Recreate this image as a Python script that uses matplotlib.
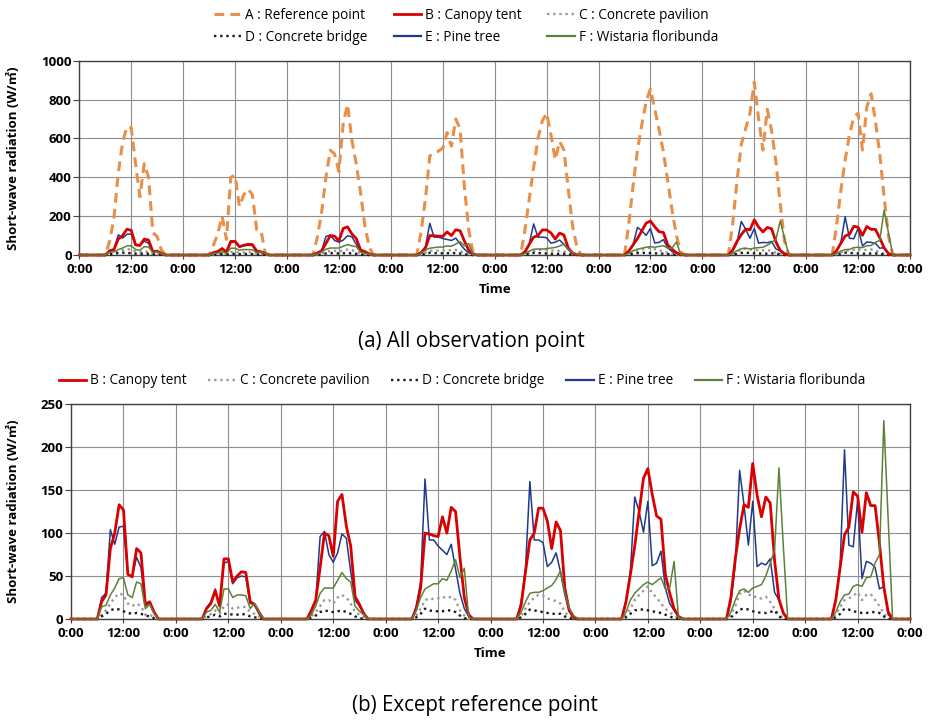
import matplotlib
matplotlib.use("Agg")
import matplotlib.pyplot as plt
from matplotlib.lines import Line2D
import numpy as np

# ---------------- data (hourly, values for hours 6..20 of each of 8 days) -------------
DAY_HOURS = list(range(6, 21))
N_DAYS = 8

A_ref = [
    [0, 70, 190, 420, 580, 660, 655, 470, 300, 470, 400, 115, 95, 25, 0],
    [0, 50, 110, 200, 80, 400, 410, 250, 310, 340, 310, 130, 125, 5, 0],
    [0, 90, 220, 400, 540, 520, 430, 680, 775, 590, 470, 320, 150, 40, 0],
    [0, 120, 290, 510, 525, 535, 550, 630, 560, 700, 650, 350, 130, 10, 0],
    [0, 130, 290, 450, 600, 690, 730, 620, 490, 585, 540, 340, 150, 40, 0],
    [0, 160, 360, 540, 670, 790, 855, 750, 645, 530, 380, 230, 100, 15, 0],
    [0, 160, 380, 570, 650, 730, 890, 700, 540, 750, 640, 480, 260, 70, 0],
    [0, 150, 330, 490, 620, 710, 730, 540, 760, 830, 690, 520, 300, 100, 0],
]
B_tent = [
    [0, 20, 28, 82, 100, 133, 127, 52, 49, 82, 77, 17, 20, 8, 0],
    [0, 12, 18, 33, 15, 70, 70, 43, 50, 55, 54, 20, 17, 8, 0],
    [0, 10, 22, 60, 100, 97, 73, 137, 145, 108, 85, 26, 17, 6, 0],
    [0, 12, 36, 100, 99, 97, 96, 119, 100, 130, 125, 72, 25, 5, 0],
    [0, 16, 55, 92, 100, 129, 129, 114, 82, 113, 103, 36, 10, 2, 0],
    [0, 20, 52, 85, 125, 164, 175, 145, 120, 116, 52, 30, 12, 3, 0],
    [0, 25, 70, 105, 133, 130, 181, 144, 119, 142, 135, 68, 23, 7, 0],
    [0, 22, 60, 98, 107, 148, 143, 101, 147, 132, 132, 88, 37, 8, 0],
]
C_pavilion = [
    [0, 5, 10, 18, 25, 30, 28, 18, 15, 18, 15, 5, 5, 2, 0],
    [0, 3, 6, 10, 6, 15, 17, 12, 13, 14, 14, 8, 6, 3, 0],
    [0, 3, 8, 15, 22, 22, 18, 25, 28, 25, 18, 8, 5, 2, 0],
    [0, 4, 12, 22, 24, 23, 24, 26, 24, 26, 22, 10, 4, 0, 0],
    [0, 4, 12, 20, 25, 28, 27, 24, 22, 21, 18, 8, 3, 1, 0],
    [0, 5, 12, 22, 28, 33, 38, 30, 25, 18, 12, 8, 4, 1, 0],
    [0, 5, 15, 29, 33, 28, 28, 24, 24, 26, 20, 12, 5, 1, 0],
    [0, 5, 14, 22, 24, 27, 31, 22, 28, 29, 22, 15, 6, 1, 0],
]
D_bridge = [
    [0, 3, 6, 10, 12, 11, 9, 7, 6, 7, 6, 4, 3, 1, 0],
    [0, 2, 3, 5, 3, 6, 6, 5, 5, 6, 5, 3, 2, 1, 0],
    [0, 2, 4, 8, 10, 9, 8, 9, 10, 8, 6, 3, 1, 0, 0],
    [0, 2, 6, 12, 10, 9, 9, 9, 10, 10, 8, 4, 1, 0, 0],
    [0, 2, 6, 11, 10, 9, 8, 7, 6, 6, 6, 3, 1, 0, 0],
    [0, 2, 6, 10, 11, 11, 10, 9, 8, 7, 5, 3, 1, 0, 0],
    [0, 2, 6, 11, 12, 11, 9, 8, 7, 7, 8, 10, 3, 0, 0],
    [0, 2, 6, 12, 11, 9, 8, 7, 7, 8, 8, 7, 3, 0, 0],
]
E_pine = [
    [0, 25, 30, 104, 87, 107, 108, 52, 50, 72, 60, 15, 19, 8, 0],
    [0, 13, 20, 35, 15, 65, 67, 41, 48, 50, 49, 18, 17, 6, 0],
    [0, 10, 22, 96, 102, 75, 66, 77, 99, 94, 55, 22, 15, 7, 0],
    [0, 15, 43, 163, 92, 92, 85, 80, 75, 87, 58, 30, 12, 3, 0],
    [0, 20, 59, 160, 92, 92, 89, 61, 66, 77, 55, 28, 9, 2, 0],
    [0, 22, 55, 142, 125, 101, 137, 62, 65, 79, 36, 18, 10, 3, 0],
    [0, 20, 63, 173, 133, 86, 137, 61, 65, 63, 70, 31, 22, 6, 0],
    [0, 22, 63, 197, 86, 84, 138, 47, 67, 65, 60, 35, 38, 5, 0],
]
F_wistaria = [
    [0, 14, 16, 28, 36, 47, 48, 28, 25, 43, 41, 12, 17, 6, 0],
    [0, 8, 10, 17, 8, 35, 35, 25, 28, 28, 27, 12, 18, 8, 0],
    [0, 5, 15, 30, 36, 36, 36, 45, 54, 47, 43, 15, 9, 5, 0],
    [0, 10, 25, 35, 38, 41, 41, 47, 45, 56, 69, 48, 59, 2, 0],
    [0, 8, 20, 30, 31, 31, 33, 36, 39, 46, 56, 30, 13, 4, 0],
    [0, 8, 22, 30, 35, 40, 43, 40, 44, 48, 35, 36, 67, 2, 0],
    [0, 8, 22, 33, 35, 31, 36, 38, 40, 50, 65, 80, 176, 85, 0],
    [0, 8, 20, 28, 29, 38, 40, 38, 48, 49, 65, 75, 231, 115, 0],
]

labels = ["A : Reference point", "B : Canopy tent", "C : Concrete pavilion",
          "D : Concrete bridge", "E : Pine tree", "F : Wistaria floribunda"]
tick_pos = list(range(0, 24 * N_DAYS + 1, 12))
tick_lab = ["0:00" if (t % 24 == 0) else "12:00" for t in tick_pos]


def full_series(day_lists):
    vals = np.zeros(24 * N_DAYS + 1)
    for d, dv in enumerate(day_lists):
        for h, v in zip(DAY_HOURS, dv):
            vals[24 * d + h] = v
    return vals


hours = np.arange(24 * N_DAYS + 1)

styles = {
    "A": dict(color="#E8904A", lw=2.2, ls=(0, (3.2, 2.0))),
    "B": dict(color="#D90000", lw=2.0, ls="-"),
    "C": dict(color="#9A9A9A", lw=1.7, ls=(0, (1, 1.6))),
    "D": dict(color="#1A1A1A", lw=1.7, ls=(0, (1, 1.6))),
    "E": dict(color="#1F3A8A", lw=1.1, ls="-"),
    "F": dict(color="#5F8038", lw=1.1, ls="-"),
}
series = {"A": A_ref, "B": B_tent, "C": C_pavilion, "D": D_bridge,
          "E": E_pine, "F": F_wistaria}

TICK_FONT = dict(family="Open Sans", weight="bold", size=9.5)
LAB_FONT = dict(family=["Open Sans", "Noto Sans CJK KR", "DejaVu Sans"], weight="bold", size=9.5)
LEG_FAMILY = ["Open Sans"]

fig = plt.figure(figsize=(9.31, 7.21), dpi=100)
ax1 = fig.add_axes([0.0852, 0.6463, 0.8923, 0.2695])
ax2 = fig.add_axes([0.0763, 0.1415, 0.9012, 0.2978])


def style_axes(ax, ymax, ystep, xlab_x):
    ax.set_xlim(0, 24 * N_DAYS)
    ax.set_ylim(0, ymax)
    ax.set_xticks(tick_pos)
    ax.set_xticklabels(tick_lab, fontdict=TICK_FONT)
    yt = list(range(0, ymax + 1, ystep))
    ax.set_yticks(yt)
    ax.set_yticklabels([str(v) for v in yt], fontdict=TICK_FONT)
    ax.tick_params(axis="y", length=4, width=0.8, pad=1.5, color="#404040")
    ax.tick_params(axis="x", length=3, width=0.8, pad=3, color="#404040")
    ax.grid(True, color="#8E8E8E", lw=0.8)
    ax.set_axisbelow(True)
    for s in ax.spines.values():
        s.set_color("#404040")
        s.set_linewidth(1.0)
    ax.set_ylabel("Short-wave radiation (W/㎡)", fontdict=LAB_FONT)
    ax.yaxis.set_label_coords(xlab_x, 0.5)
    ax.set_xlabel("Time", fontdict=LAB_FONT, labelpad=5)


def draw(ax, keys):
    for k in keys:
        st = styles[k]
        ax.plot(hours, full_series(series[k]), color=st["color"], lw=st["lw"],
                linestyle=st["ls"], solid_joinstyle="round", clip_on=False, zorder=3)


draw(ax1, ["A", "C", "D", "E", "B", "F"])
style_axes(ax1, 1000, 200, -0.0714)
draw(ax2, ["C", "D", "E", "B", "F"])
style_axes(ax2, 250, 50, -0.0608)


def handle(k):
    st = styles[k]
    return Line2D([], [], color=st["color"], lw=st["lw"] if k not in "EF" else 1.6,
                  linestyle=st["ls"])


order1 = ["A", "D", "B", "E", "C", "F"]
idx = {"A": 0, "B": 1, "C": 2, "D": 3, "E": 4, "F": 5}
fig.legend([handle(k) for k in order1], [labels[idx[k]] for k in order1],
           loc="center", bbox_to_anchor=(466 / 931, 1 - 26.5 / 721), ncol=3, frameon=False,
           prop=dict(family=LEG_FAMILY, size=9.8), handlelength=2.0, handletextpad=0.3,
           columnspacing=1.9, labelspacing=0.55, borderaxespad=0)
order2 = ["B", "C", "D", "E", "F"]
fig.legend([handle(k) for k in order2], [labels[idx[k]] for k in order2],
           loc="center", bbox_to_anchor=(462 / 931, 1 - 381 / 721), ncol=5, frameon=False,
           prop=dict(family=LEG_FAMILY, size=9.8), handlelength=2.0, handletextpad=0.3,
           columnspacing=1.6, borderaxespad=0)

fig.text(471 / 931, 1 - 341 / 721, "(a) All observation point", ha="center", va="center",
         family="Open Sans", size=14.8)
fig.text(475 / 931, 1 - 706 / 721, "(b) Except reference point", ha="center", va="center",
         family="Open Sans", size=14.8)

fig.savefig("out.png", dpi=100)
